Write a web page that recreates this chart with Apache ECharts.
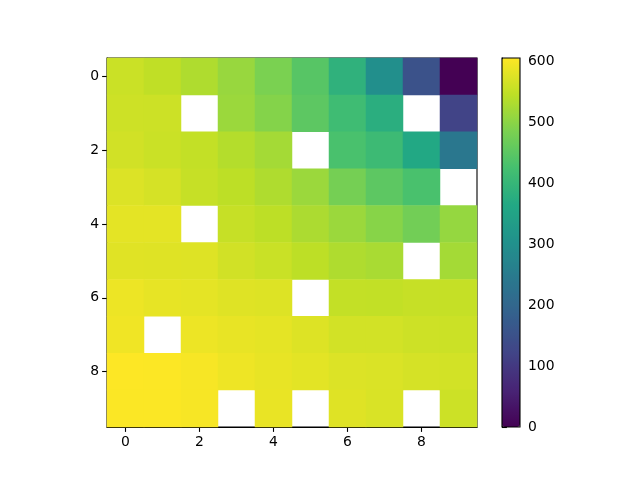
<!DOCTYPE html>
<html><head><meta charset="utf-8">
<script src="https://cdn.jsdelivr.net/npm/echarts@6/dist/echarts.min.js"></script>
<style>html,body{margin:0;padding:0;background:#fff}#c{width:640px;height:480px}</style>
</head><body><div id="c"></div>
<script>
const xCats = ['0','1','2','3','4','5','6','7','8','9'];
const yCats = ['0','1','2','3','4','5','6','7','8','9'];
const NA = null;
const row0 = [558, 548, 533, 512, 485, 445, 388, 297, 152, 0];
const row1 = [561, 560, NA, 515, 494, 452, 415, 379, NA, 121];
const row2 = [564, 558, 551, 537, 523, NA, 430, 412, 364, 240];
const row3 = [575, 568, 554, 545, 533, 515, 479, 452, 430, NA];
const row4 = [582, 582, NA, 554, 545, 530, 515, 497, 476, 509];
const row5 = [579, 578, 577, 564, 557, 545, 533, 527, NA, 523];
const row6 = [591, 585, 583, 578, 576, NA, 551, 550, 554, 553];
const row7 = [594, NA, 591, 586, 583, 576, 565, 565, 561, 559];
const row8 = [606, 605, 600, 592, 586, 581, 575, 573, 568, 565];
const row9 = [604, 604, 600, NA, 587, NA, 578, 572, NA, 560];
const rows = [row0,row1,row2,row3,row4,row5,row6,row7,row8,row9];
const vMin = 0, vMax = 606;
const viridis = ['#440154','#482475','#414487','#355f8d','#2a788e','#21918c','#22a884','#44bf70','#7ad151','#bddf26','#fde725'];

const data = [];
rows.forEach((r, yi) => r.forEach((v, xi) => data.push([xi, yi, v === null ? '-' : v])));

const font = {fontFamily: 'DejaVu Sans', fontSize: 13.9, color: '#000'};
const chart = echarts.init(document.getElementById('c'), null, {renderer: 'canvas'});
chart.setOption({
  animation: false,
  backgroundColor: '#fff',
  grid: [
    {left: 107, top: 58, width: 370, height: 369, show: true, borderColor: '#000', borderWidth: 1.1, backgroundColor: 'transparent'},
    {left: 502, top: 58, width: 18, height: 369, show: true, borderColor: '#000', borderWidth: 1.1, backgroundColor: 'transparent', z: 10}
  ],
  xAxis: [
    {type: 'category', data: xCats, gridIndex: 0,
     axisLine: {show: true, lineStyle: {color: '#000', width: 1.1}},
     axisTick: {show: true, alignWithLabel: true, interval: 1, length: 4.9, lineStyle: {color: '#000', width: 1.1}},
     axisLabel: Object.assign({interval: 1, margin: 8}, font),
     splitLine: {show: false}},
    {type: 'value', gridIndex: 1, show: false, min: 0, max: 1}
  ],
  yAxis: [
    {type: 'category', data: yCats, gridIndex: 0, inverse: true,
     axisLine: {show: true, lineStyle: {color: '#000', width: 1.1}},
     axisTick: {show: true, alignWithLabel: true, interval: 1, length: 4.9, lineStyle: {color: '#000', width: 1.1}},
     axisLabel: Object.assign({interval: 1, margin: 8}, font),
     splitLine: {show: false}},
    {type: 'value', gridIndex: 1, position: 'right', min: vMin, max: vMax, interval: 100,
     axisLine: {show: true, lineStyle: {color: '#000', width: 1.1}},
     axisTick: {show: true, length: 4.9, lineStyle: {color: '#000', width: 1.1}},
     axisLabel: Object.assign({margin: 8, showMaxLabel: false}, font),
     splitLine: {show: false}}
  ],
  visualMap: {
    type: 'continuous', min: vMin, max: vMax, seriesIndex: 0,
    calculable: false, orient: 'vertical', left: 502, top: 58,
    itemWidth: 18, itemHeight: 369, padding: 0, textGap: 0,
    inRange: {color: viridis}
  },
  series: [
    {type: 'heatmap', xAxisIndex: 0, yAxisIndex: 0, data: data, progressive: 0},
    {type: 'line', xAxisIndex: 1, yAxisIndex: 1, data: [], silent: true}
  ]
});
</script></body></html>
